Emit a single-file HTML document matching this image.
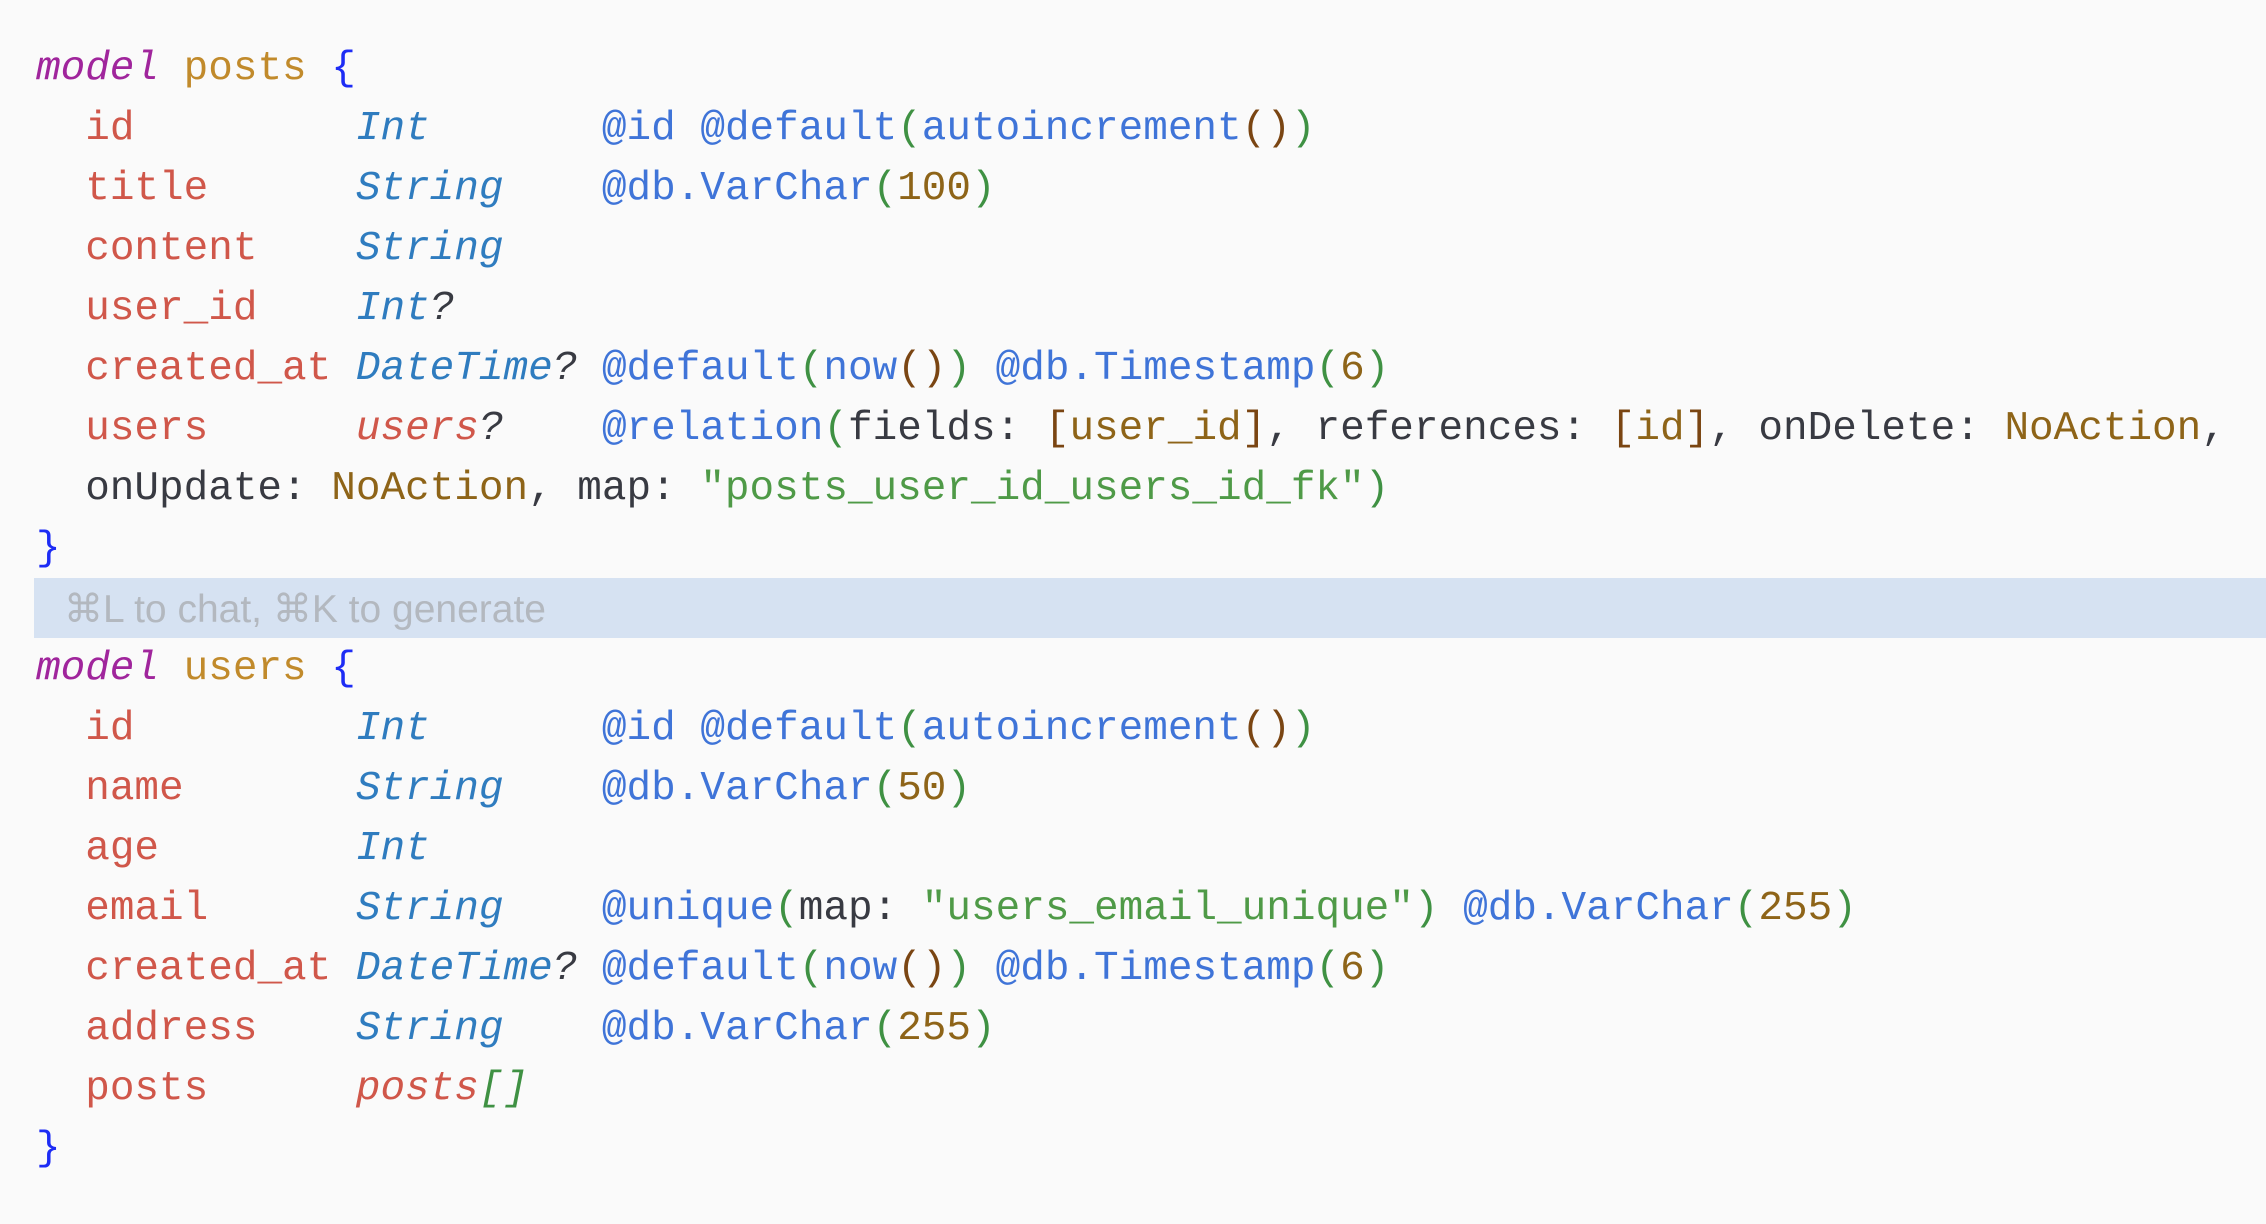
<!DOCTYPE html>
<html><head><meta charset="utf-8"><style>
html,body{margin:0;padding:0;background:#fafafa;width:2266px;height:1224px;overflow:hidden}
pre{position:absolute;left:36px;margin:0;font-family:"Liberation Mono",monospace;font-size:41px;line-height:60px;color:#383a42;white-space:pre}
#p1{top:39px}#p2{top:639px}
.bar{position:absolute;left:34px;top:578px;width:2232px;height:60px;background:#d6e2f2}
.ph{position:absolute;left:64px;top:580px;line-height:60px;font-family:"Liberation Sans",sans-serif;font-size:39px;color:#b3b8bf}
.k{color:#a0259c;font-style:italic}.m{color:#c18a2b}.b{color:#1d2cf5}
.f{color:#d0574a}.t{color:#2f7cbf;font-style:italic}.q{font-style:italic;color:#383a42}
.r{color:#d0574a;font-style:italic}.a{color:#3f74d8}.g{color:#3f9143}.o{color:#7a4512}
.n{color:#8e6418}.s{color:#4f9a47}
</style></head><body>
<pre id="p1"><span class="k">model</span> <span class="m">posts</span> <span class="b">{</span>
  <span class="f">id</span>         <span class="t">Int</span>       <span class="a">@id @default</span><span class="g">(</span><span class="a">autoincrement</span><span class="o">()</span><span class="g">)</span>
  <span class="f">title</span>      <span class="t">String</span>    <span class="a">@db.VarChar</span><span class="g">(</span><span class="n">100</span><span class="g">)</span>
  <span class="f">content</span>    <span class="t">String</span>
  <span class="f">user_id</span>    <span class="t">Int</span><span class="q">?</span>
  <span class="f">created_at</span> <span class="t">DateTime</span><span class="q">?</span> <span class="a">@default</span><span class="g">(</span><span class="a">now</span><span class="o">()</span><span class="g">)</span> <span class="a">@db.Timestamp</span><span class="g">(</span><span class="n">6</span><span class="g">)</span>
  <span class="f">users</span>      <span class="r">users</span><span class="q">?</span>    <span class="a">@relation</span><span class="g">(</span>fields: <span class="o">[</span><span class="n">user_id</span><span class="o">]</span>, references: <span class="o">[</span><span class="n">id</span><span class="o">]</span>, onDelete: <span class="n">NoAction</span>,
  onUpdate: <span class="n">NoAction</span>, map: <span class="s">"posts_user_id_users_id_fk"</span><span class="g">)</span>
<span class="b">}</span></pre>
<div class="bar"></div>
<div class="ph">⌘L to chat, ⌘K to generate</div>
<pre id="p2"><span class="k">model</span> <span class="m">users</span> <span class="b">{</span>
  <span class="f">id</span>         <span class="t">Int</span>       <span class="a">@id @default</span><span class="g">(</span><span class="a">autoincrement</span><span class="o">()</span><span class="g">)</span>
  <span class="f">name</span>       <span class="t">String</span>    <span class="a">@db.VarChar</span><span class="g">(</span><span class="n">50</span><span class="g">)</span>
  <span class="f">age</span>        <span class="t">Int</span>
  <span class="f">email</span>      <span class="t">String</span>    <span class="a">@unique</span><span class="g">(</span>map: <span class="s">"users_email_unique"</span><span class="g">)</span> <span class="a">@db.VarChar</span><span class="g">(</span><span class="n">255</span><span class="g">)</span>
  <span class="f">created_at</span> <span class="t">DateTime</span><span class="q">?</span> <span class="a">@default</span><span class="g">(</span><span class="a">now</span><span class="o">()</span><span class="g">)</span> <span class="a">@db.Timestamp</span><span class="g">(</span><span class="n">6</span><span class="g">)</span>
  <span class="f">address</span>    <span class="t">String</span>    <span class="a">@db.VarChar</span><span class="g">(</span><span class="n">255</span><span class="g">)</span>
  <span class="f">posts</span>      <span class="r">posts</span><span class="g" style="font-style:italic">[]</span>
<span class="b">}</span></pre>
</body></html>
